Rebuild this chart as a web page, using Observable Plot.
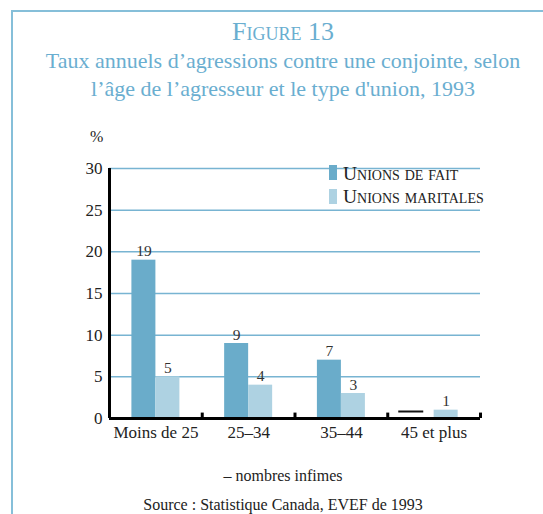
<!DOCTYPE html>
<html><head><meta charset="utf-8">
<script src="https://cdn.jsdelivr.net/npm/d3@7"></script>
<script src="https://cdn.jsdelivr.net/npm/@observablehq/plot@0.6"></script>
<style>
html,body{margin:0;padding:0;background:#fff;}
body{width:543px;height:514px;overflow:hidden;position:relative;font-family:"Liberation Serif",serif;}
#frame{position:absolute;left:11px;top:10px;width:600px;height:600px;border-left:2px solid #86bfd9;border-top:2px solid #86bfd9;}
.c{position:absolute;left:183px;width:200px;text-align:center;white-space:nowrap;line-height:1;display:flex;justify-content:center;}
.title{color:#6aaed0;}
#chart{position:absolute;left:0;top:120px;}
.leg{position:absolute;left:329px;line-height:1;font-size:19.5px;font-variant:small-caps;color:#222;white-space:nowrap;}
.sw{position:absolute;width:8px;height:15px;}
</style></head>
<body>
<div id="frame"></div>
<div class="c title" style="top:19.2px;font-size:26px;font-variant:small-caps;">Figure 13</div>
<div class="c title" style="top:49.6px;font-size:22px;">Taux annuels d’agressions contre une conjointe, selon</div>
<div class="c title" style="top:77.6px;font-size:22px;">l’âge de l’agresseur et le type d'union, 1993</div>
<div style="position:absolute;left:90px;top:128.6px;font-size:16px;line-height:1;color:#222;">%</div>
<div id="chart"></div>
<div class="sw" style="left:329px;top:165px;background:#6aacca;"></div>
<div class="leg" style="left:343px;top:163.7px;">Unions de fait</div>
<div class="sw" style="left:329px;top:189px;background:#aed2e2;"></div>
<div class="leg" style="left:343px;top:186.7px;">Unions maritales</div>
<div class="c" style="top:467.6px;font-size:16px;color:#222;">– nombres infimes</div>
<div class="c" style="top:496.6px;font-size:16px;color:#222;">Source : Statistique Canada, EVEF de 1993</div>
<script>
const ages = ["Moins de 25", "25–34", "35–44", "45 et plus"];
const unionsDeFait = [19, 9, 7, null];
const unionsMaritales = [5, 4, 3, 1];
const infimes = ["45 et plus"];
const yTicks = [0, 5, 10, 15, 20, 25, 30];

const fait = ages.map((a, i) => ({age: a, v: unionsDeFait[i]})).filter(d => d.v != null);
const marit = ages.map((a, i) => ({age: a, v: unionsMaritales[i]})).filter(d => d.v != null);

const dark = "#6aacca", light = "#aed2e2", grid = "#78b4d2";
const half = 92.75 / 2;

const chart = Plot.plot({
  width: 543, height: 330,
  marginLeft: 109, marginRight: 63, marginTop: 48, marginBottom: 32,
  style: {fontFamily: "'Liberation Serif', serif", fontSize: "17px", color: "#222", background: "transparent"},
  x: {domain: ages, padding: 0, round: false, tickSize: 0, tickPadding: 7, label: null},
  y: {domain: [0, 30], ticks: yTicks, tickSize: 0, tickPadding: 7, label: null},
  marks: [
    Plot.ruleY(yTicks.filter(t => t > 0), {stroke: grid, strokeWidth: 1.5}),
    Plot.barY(fait, {x: "age", y: "v", fill: dark, insetLeft: 22.4, insetRight: 46.35}),
    Plot.barY(marit, {x: "age", y: "v", fill: light, insetLeft: 46.4, insetRight: 22.35}),
    Plot.tickY(infimes, {x: d => d, y: () => 0, dy: -7, stroke: "#111", strokeWidth: 2, insetLeft: 11, insetRight: 56.75}),
    Plot.text(fait, {x: "age", y: "v", text: d => String(d.v), dx: -12, dy: -4, lineAnchor: "bottom", fontSize: 15.5, fill: "#333"}),
    Plot.text(marit, {x: "age", y: "v", text: d => String(d.v), dx: 12, dy: -4, lineAnchor: "bottom", fontSize: 15.5, fill: "#333"}),
    Plot.ruleY([0], {stroke: "#000", strokeWidth: 3}),
    Plot.ruleX(ages, {x: d => d, y1: 0, y2: 0.65, dx: half, stroke: "#000", strokeWidth: 3}),
    Plot.ruleX([ages[0]], {x: d => d, y1: 0, y2: 30, dx: -half, stroke: "#000", strokeWidth: 3})
  ]
});
document.getElementById("chart").appendChild(chart);
</script>
</body></html>
